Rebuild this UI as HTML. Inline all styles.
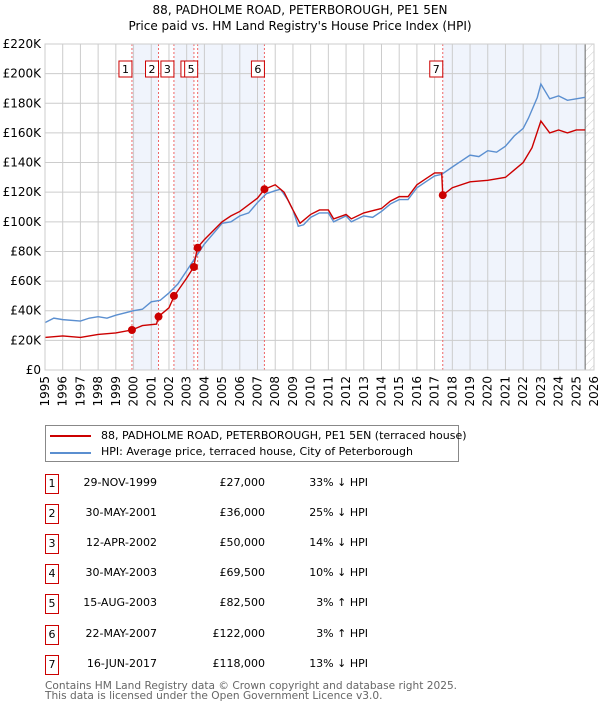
<!DOCTYPE html>
<html><head><meta charset="utf-8"><style>
body{margin:0;background:#fff;font-family:"DejaVu Sans","Liberation Sans",sans-serif;}
#wrap{position:relative;width:600px;height:710px;overflow:hidden}
.t{position:absolute;font-size:11px;color:#000;white-space:nowrap}
.box{position:absolute;width:12px;height:18px;border:1px solid #c00;font-size:11px;text-align:center;line-height:18px;left:45px}
</style></head><body><div id="wrap">
<div class="t" style="left:0;width:600px;text-align:center;top:2px;font-size:12px;line-height:16px">88, PADHOLME ROAD, PETERBOROUGH, PE1 5EN<br>Price paid vs. HM Land Registry's House Price Index (HPI)</div>
<svg id="chart" width="600" height="420" style="position:absolute;left:0;top:0"></svg>
<div style="position:absolute;left:45px;top:425px;width:412px;height:35px;border:1px solid #888">
<div><div style="position:absolute;left:4px;top:9px;width:41px;height:2px;background:#c00"></div><div class="t" style="left:55px;top:3px">88, PADHOLME ROAD, PETERBOROUGH, PE1 5EN (terraced house)</div></div>
<div><div style="position:absolute;left:4px;top:26px;width:41px;height:2px;background:#5b8fd0"></div><div class="t" style="left:55px;top:19px">HPI: Average price, terraced house, City of Peterborough</div></div>
</div>
<div id="tbl"></div>
<div class="t" style="left:45px;top:681px;color:#666;line-height:10px;font-size:10.6px">Contains HM Land Registry data © Crown copyright and database right 2025.<br>This data is licensed under the Open Government Licence v3.0.</div>
</div>
<script>
const hpiYears=[1995,1995.5,1996,1997,1997.5,1998,1998.5,1999,2000,2000.5,2001,2001.5,2002,2002.5,2003,2003.5,2004,2004.5,2005,2005.5,2006,2006.5,2007,2007.5,2008,2008.3,2008.7,2009,2009.3,2009.6,2010,2010.5,2011,2011.3,2012,2012.3,2013,2013.5,2014,2014.5,2015,2015.5,2016,2016.5,2017,2017.4,2018,2018.5,2019,2019.5,2020,2020.5,2021,2021.5,2022,2022.3,2022.8,2023,2023.5,2024,2024.5,2025,2025.5];
const hpiValues=[32,35,34,33,35,36,35,37,40,41,46,47,52,58,67,76,85,92,99,100,104,106,113,119,121,122,115,108,97,98,103,106,106,100,104,100,104,103,107,112,115,115,123,127,131,132,137,141,145,144,148,147,151,158,163,170,184,193,183,185,182,183,184];
const redYears=[1995,1996,1997,1998,1999,1999.9,2000.5,2001.3,2001.4,2002,2002.3,2003,2003.4,2003.6,2004,2005,2005.5,2006,2007,2007.4,2008,2008.5,2009,2009.4,2010,2010.5,2011,2011.3,2012,2012.3,2013,2014,2014.5,2015,2015.5,2016,2016.5,2017,2017.4,2017.46,2018,2019,2020,2021,2021.5,2022,2022.5,2023,2023.5,2024,2024.5,2025,2025.5];
const redValues=[22,23,22,24,25,27,30,31,36,42,50,62,69.5,82.5,88,100,104,107,116,122,125,120,108,99,105,108,108,102,105,102,106,109,114,117,117,125,129,133,133,118,123,127,128,130,135,140,150,168,160,162,160,162,162];
const saleYears=[1999.91,2001.41,2002.28,2003.41,2003.62,2007.39,2017.46];
const salePrices=[27,36,50,69.5,82.5,122,118];
const saleLabels=["1","2","3","4","5","6","7"];
const saleDates=["29-NOV-1999","30-MAY-2001","12-APR-2002","30-MAY-2003","15-AUG-2003","22-MAY-2007","16-JUN-2017"];
const salePriceText=["£27,000","£36,000","£50,000","£69,500","£82,500","£122,000","£118,000"];
const saleHpiText=["33% ↓ HPI","25% ↓ HPI","14% ↓ HPI","10% ↓ HPI","3% ↑ HPI","3% ↑ HPI","13% ↓ HPI"];
const yTicks=[0,20,40,60,80,100,120,140,160,180,200,220];
const xTicks=[1995,1996,1997,1998,1999,2000,2001,2002,2003,2004,2005,2006,2007,2008,2009,2010,2011,2012,2013,2014,2015,2016,2017,2018,2019,2020,2021,2022,2023,2024,2025,2026];
const X0=45,X1=594,Y0=370,Y1=44,endYear=2025.5;
const xs=y=>X0+(y-1995)/31*(X1-X0);
const ys=v=>Y0-v/220*(Y0-Y1);
const NS="http://www.w3.org/2000/svg",svg=document.getElementById('chart');
function mk(t,a,p){const e=document.createElementNS(NS,t);for(const k in a)e.setAttribute(k,a[k]);(p||svg).appendChild(e);return e;}
const defs=mk('defs',{});const pat=mk('pattern',{id:'hatch',width:6,height:6,patternUnits:'userSpaceOnUse',patternTransform:'rotate(45)'},defs);mk('line',{x1:0,y1:0,x2:0,y2:6,stroke:'#ccc','stroke-width':1},pat);
[[0,1],[2,3],[4,5]].forEach(([a,b])=>{const r=mk('rect',{x:xs(saleYears[a]),y:Y1,width:xs(saleYears[b])-xs(saleYears[a]),height:Y0-Y1,fill:'#f0f4fc'});});
{const r=mk('rect',{x:xs(saleYears[6]),y:Y1,width:xs(endYear)-xs(saleYears[6]),height:Y0-Y1,fill:'#f0f4fc'});}
{const r=mk('rect',{x:xs(endYear),y:Y1,width:X1-xs(endYear),height:Y0-Y1,fill:'url(#hatch)'});}
xTicks.forEach(t=>{mk('line',{x1:xs(t),x2:xs(t),y1:Y1,y2:Y0,stroke:'#ccc'});const l=mk('text',{x:0,y:0,'font-size':12,'text-anchor':'end',transform:`translate(${xs(t)+4},${Y0+6}) rotate(-90)`,'font-family':'DejaVu Sans, sans-serif'});l.textContent=t;});
yTicks.forEach(t=>{mk('line',{x1:X0,x2:X1,y1:ys(t),y2:ys(t),stroke:'#ccc'});const l=mk('text',{x:X0-4,y:ys(t)+4,'font-size':12,'text-anchor':'end','font-family':'DejaVu Sans, sans-serif'});l.textContent=t?'£'+t+'K':'£0';});
mk('line',{x1:xs(endYear),x2:xs(endYear),y1:Y1,y2:Y0,stroke:'#666'});
saleYears.forEach((s,i)=>{const l=mk('line',{x1:xs(s),x2:xs(s),y1:Y1,y2:Y0,stroke:'#e66','stroke-dasharray':'2,2'});});
const hp=mk('polyline',{points:hpiYears.map((y,i)=>xs(y)+','+ys(hpiValues[i])).join(' '),fill:'none',stroke:'#5b8fd0','stroke-width':1.4});

const rp=mk('polyline',{points:redYears.map((y,i)=>xs(y)+','+ys(redValues[i])).join(' '),fill:'none',stroke:'#c00','stroke-width':1.4});

saleYears.forEach((s,i)=>{const c=mk('circle',{cx:xs(s),cy:ys(salePrices[i]),r:4,fill:'#c00'});
const g=mk('g',{});
const bx=xs(s)-13;mk('rect',{x:bx,y:61,width:13,height:16,fill:'#fff',stroke:'#c00'},g);const tx=mk('text',{x:bx+6.5,y:73,'font-size':11,'text-anchor':'middle','font-family':'DejaVu Sans, sans-serif'},g);tx.textContent=saleLabels[i];});
mk('rect',{x:X0,y:Y1,width:X1-X0,height:Y0-Y1,fill:'none',stroke:'#ccc'});
const tbl=document.getElementById('tbl');
saleLabels.forEach((l,i)=>{const top=474+i*30.1;const r=document.createElement('div');
r.innerHTML=`<div class="box" style="top:${top}px">${l}</div><div class="t" style="right:443px;top:${top+2}px">${saleDates[i]}</div><div class="t" style="right:335px;top:${top+2}px">${salePriceText[i]}</div><div class="t" style="right:232px;top:${top+2}px">${saleHpiText[i]}</div>`;tbl.appendChild(r);});
</script></body></html>
